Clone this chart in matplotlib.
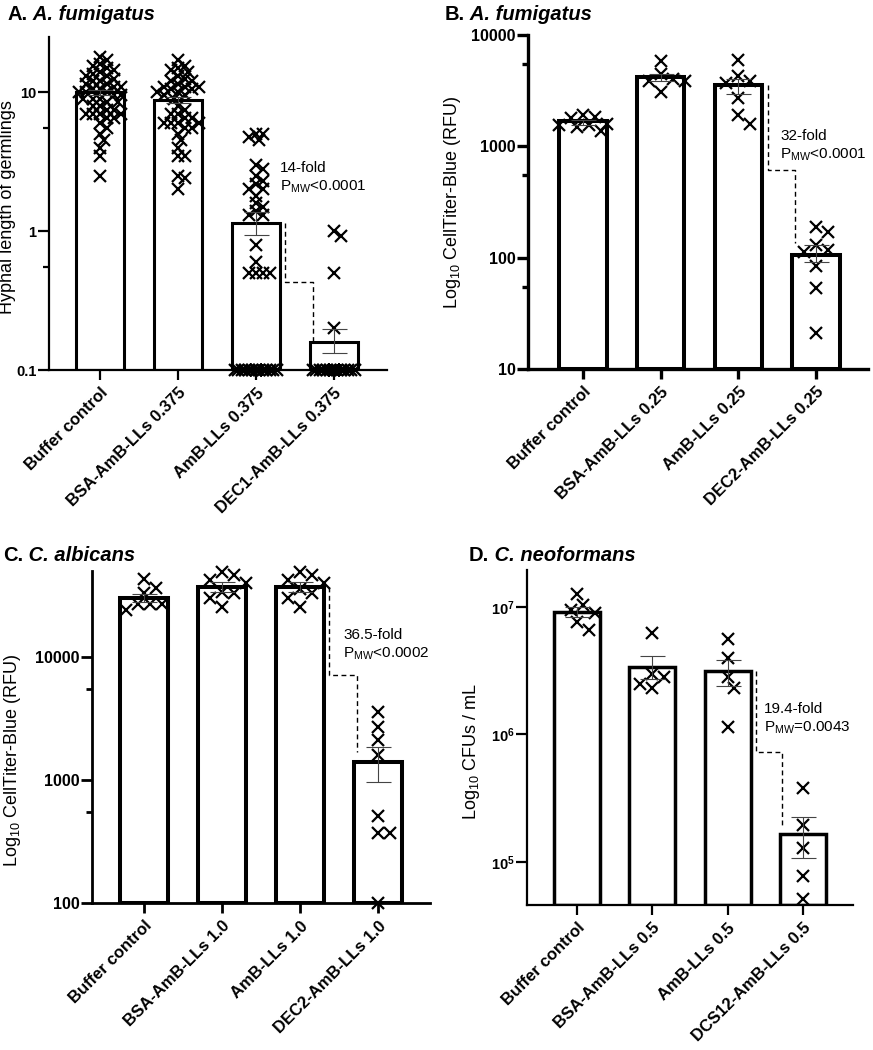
import numpy as np
import matplotlib
matplotlib.use('Agg')
import matplotlib.pyplot as plt

plt.rcParams['font.family'] = ['Liberation Sans', 'DejaVu Sans']
plt.rcParams['mathtext.fontset'] = 'custom'
plt.rcParams['mathtext.rm'] = 'Liberation Sans'
plt.rcParams['mathtext.it'] = 'Liberation Sans:italic'
plt.rcParams['mathtext.bf'] = 'Liberation Sans:bold'

# ---- A. A. fumigatus, hyphal length ----
labels_a = ['Buffer control', 'BSA-AmB-LLs 0.375', 'AmB-LLs 0.375', 'DEC1-AmB-LLs 0.375']
means_a = [10.0, 8.75, 1.14, 0.16]
lo_a = [9.6, 8.3, 0.94, 0.132]
hi_a = [10.4, 9.2, 1.37, 0.197]
pts_a = [
    [18, 17, 16, 15.5, 15, 14.5, 14, 13.5, 13, 13, 12.5, 12, 12, 11.5, 11.5, 11, 11,
     10.5, 10.5, 10, 10, 10, 9.5, 9.5, 9, 9, 9, 8.5, 8.5, 8, 8, 7.5, 7.5, 7, 7, 7, 7,
     6.5, 6.5, 6, 5.5, 5, 4.5, 4, 3.5, 2.5],
    [17, 15.5, 15, 14.5, 14, 13, 12.5, 12, 12, 11.5, 11, 11, 11, 10.5, 10.5, 10, 10,
     9.5, 9.5, 9, 8, 7.5, 7, 7, 6.5, 6.5, 6, 6, 6, 6, 5.5, 5.5, 5, 4.5, 4, 3.5, 3.5,
     2.5, 2.4, 2.0],
    [5, 5, 4.8, 4.5, 3, 2.8, 2.5, 2.3, 2.2, 2, 2, 1.8, 1.6, 1.5, 1.4, 1.3, 1.3, 0.8,
     0.6, 0.5, 0.5, 0.5, 0.5, 0.1, 0.1, 0.1, 0.1, 0.1, 0.1, 0.1, 0.1, 0.1, 0.1, 0.1,
     0.1, 0.1, 0.1, 0.1, 0.1, 0.1, 0.1, 0.1, 0.1],
    [1.0, 0.93, 0.5, 0.2, 0.1, 0.1, 0.1, 0.1, 0.1, 0.1, 0.1, 0.1, 0.1, 0.1, 0.1, 0.1,
     0.1, 0.1, 0.1, 0.1, 0.1, 0.1, 0.1, 0.1, 0.1, 0.1, 0.1, 0.1, 0.1, 0.1, 0.1, 0.1,
     0.1, 0.1, 0.1, 0.1, 0.1],
]

# ---- B. A. fumigatus, CellTiter-Blue ----
labels_b = ['Buffer control', 'BSA-AmB-LLs 0.25', 'AmB-LLs 0.25', 'DEC2-AmB-LLs 0.25']
means_b = [1680, 4200, 3550, 106]
lo_b = [1550, 3850, 2950, 92]
hi_b = [1730, 4500, 4000, 130]
pts_b = [
    [1850, 1550, 1500, 1550, 1600, 1900, 1800, 1380],
    [5900, 4500, 4000, 3900, 3850, 3100],
    [6000, 3900, 3700, 4300, 2700, 1900, 1600],
    [170, 190, 118, 130, 112, 85, 53, 21],
]

# ---- C. C. albicans ----
labels_c = ['Buffer control', 'BSA-AmB-LLs 1.0', 'AmB-LLs 1.0', 'DEC2-AmB-LLs 1.0']
means_c = [30200, 37000, 37000, 1400]
lo_c = [28000, 34000, 34000, 960]
hi_c = [32500, 40500, 40500, 1850]
pts_c = [
    [43000, 36500, 27000, 27000, 27000, 33000, 24000],
    [42000, 46000, 40000, 49000, 33000, 25500, 30000, 34000],
    [42000, 46000, 40000, 49000, 33000, 25500, 30000, 36000],
    [3600, 2700, 2100, 1600, 510, 370, 370, 100],
]

# ---- D. C. neoformans ----
labels_d = ['Buffer control', 'BSA-AmB-LLs 0.5', 'AmB-LLs 0.5', 'DCS12-AmB-LLs 0.5']
means_d = [9.1e6, 3.38e6, 3.15e6, 1.66e5]
lo_d = [8.4e6, 2.7e6, 2.4e6, 1.07e5]
hi_d = [1.0e7, 4.15e6, 3.85e6, 2.24e5]
pts_d = [
    [1.26e7, 9.5e6, 1.04e7, 6.6e6, 7.6e6, 9.0e6],
    [6.3e6, 3.0e6, 2.3e6, 2.5e6, 2.8e6],
    [5.6e6, 4.0e6, 2.8e6, 2.3e6, 1.15e6],
    [3.78e5, 1.95e5, 1.29e5, 7.7e4, 5.1e4],
]


def swarm(ax, xc, vals, gap, half):
    # spread the crosses sideways (in pixels) so they do not sit on top of each other
    vals = np.asarray(vals, float)
    ys = ax.transData.transform(np.column_stack([np.full(len(vals), xc), vals]))[:, 1]
    x0, x1 = ax.get_xlim()
    ppu = ax.bbox.width / (x1 - x0)
    cand = [0.0]
    for s in np.arange(gap / 2, half + 0.01, gap / 2):
        cand += [s, -s]
    placed = []
    offs = np.zeros(len(vals))
    for i in np.argsort(-ys, kind='stable'):
        best, best_d = 0.0, -1.0
        for c in cand:
            d = min([np.hypot(c - px, ys[i] - py) for px, py in placed], default=1e9)
            if d >= gap:
                best = c
                break
            if d > best_d:
                best, best_d = c, d
        placed.append((best, ys[i]))
        offs[i] = best
    return xc + offs / ppu


def panel(fig, rect, xlim, labels, means, lo, hi, pts, ylim, yticks, yticklabels,
          minor, ylabel, ylab_xy, lw_bar, lw_ax, tick_fs, gap, half,
          fold, pval, txt_x, txt_y, end_val):
    ax = fig.add_axes(rect)
    ax.set_yscale('log')
    ax.set_xlim(*xlim)
    ax.set_ylim(*ylim)
    x = np.arange(len(labels))
    w = 0.61
    ax.bar(x, np.array(means) - ylim[0], bottom=ylim[0], width=w, color='white',
           edgecolor='black', linewidth=lw_bar, zorder=2)
    for i, v in enumerate(pts):
        xs = swarm(ax, i, v, gap, half)
        ax.plot(xs, v, 'x', color='black', markersize=9, mew=1.6, zorder=3, clip_on=False)
    m = np.array(means)
    ax.errorbar(x, m, yerr=[m - np.array(lo), np.array(hi) - m], fmt='none',
                ecolor='#444444', elinewidth=0.8, capsize=9, capthick=0.8, zorder=4)

    # dashed bracket between AmB-LLs and the targeted liposomes
    xa = 2 + w / 2 + 0.07
    xb = 3 - w / 2 + 0.03
    ymid = np.sqrt(means[2] * means[3])
    ax.plot([xa, xa, xb, xb], [means[2], ymid, ymid, end_val], color='black',
            lw=1.0, ls=(0, (3.5, 2.5)), zorder=2)
    ax.text(txt_x, txt_y, fold, transform=ax.transAxes, fontsize=11, va='baseline')
    ax.text(txt_x, txt_y - 0.056, pval, transform=ax.transAxes, fontsize=11, va='baseline')

    for s in ['top', 'right']:
        ax.spines[s].set_visible(False)
    for s in ['left', 'bottom']:
        ax.spines[s].set_linewidth(lw_ax)
    ax.set_yticks(yticks)
    ax.set_yticklabels(yticklabels, fontweight='bold', fontsize=tick_fs)
    ax.set_yticks(minor, minor=True)
    ax.set_yticklabels([''] * len(minor), minor=True)
    ax.tick_params(axis='y', which='major', length=8, width=lw_ax, pad=1)
    ax.tick_params(axis='y', which='minor', length=4, width=lw_ax)
    ax.set_xticks(x)
    ax.set_xticklabels(labels, rotation=45, ha='right', va='top', rotation_mode='anchor',
                       fontweight='bold', fontsize=12)
    ax.tick_params(axis='x', length=7, width=lw_ax, pad=4)
    ax.set_ylabel(ylabel, fontsize=13)
    ax.yaxis.set_label_coords(*ylab_xy)
    return ax


def title(fig, ax, x, y, head, species):
    t = fig.text(x, y, head, fontsize=14.5, fontweight='bold', va='baseline')
    ax.annotate(' ' + species, xy=(1, 0), xycoords=t, va='bottom', ha='left',
                fontsize=14.5, fontweight='bold', fontstyle='italic', annotation_clip=False)


W, H = 873, 1050
fig = plt.figure(figsize=(W / 100, H / 100), dpi=100)


def rect(l, r, t, b):
    return [l / W, 1 - b / H, (r - l) / W, (b - t) / H]


pmw = r'P$_{\mathregular{MW}}$'

axA = panel(fig, rect(49, 387, 37, 370), (-0.654, 3.68), labels_a, means_a, lo_a, hi_a, pts_a,
            (0.1, 25), [0.1, 1, 10], ['0.1', '1', '10'], [0.55, 5.5],
            'Hyphal length of germlings', (-0.098, 0.49), 2.2, 1.6, 10.5, 7, 24,
            '14-fold', pmw + '<0.0001', 0.683, 0.595, 0.16)
axB = panel(fig, rect(528, 868, 35, 369), (-0.708, 3.668), labels_b, means_b, lo_b, hi_b, pts_b,
            (10, 10000), [10, 100, 1000, 10000], ['10', '100', '1000', '10000'], [55, 550, 5500],
            r'Log$_{10}$ CellTiter-Blue (RFU)', (-0.19, 0.5), 2.9, 2.4, 11.5, 12, 24,
            '32-fold', pmw + '<0.0001', 0.742, 0.686, 136)
axC = panel(fig, rect(92, 430, 571, 903), (-0.667, 3.667), labels_c, means_c, lo_c, hi_c, pts_c,
            (100, 50000), [100, 1000, 10000], ['100', '1000', '10000'], [550, 5500],
            r'Log$_{10}$ CellTiter-Blue (RFU)', (-0.204, 0.43), 2.9, 2.0, 11.5, 12, 24,
            '36.5-fold', pmw + '<0.0002', 0.743, 0.795, 1690)
axD = panel(fig, rect(527, 853, 570, 905), (-0.664, 3.665), labels_d, means_d, lo_d, hi_d, pts_d,
            (4.6e4, 1.95e7), [1e5, 1e6, 1e7],
            [r'$\mathbf{10^{5}}$', r'$\mathbf{10^{6}}$', r'$\mathbf{10^{7}}$'], [],
            r'Log$_{10}$ CFUs / mL', (-0.138, 0.457), 2.5, 1.6, 10.5, 12, 22,
            '19.4-fold', pmw + '=0.0043', 0.726, 0.573, 1.85e5)

title(fig, axA, 8 / W, 1 - 20 / H, 'A.', 'A. fumigatus')
title(fig, axB, 445 / W, 1 - 20 / H, 'B.', 'A. fumigatus')
title(fig, axC, 3 / W, 1 - 561 / H, 'C.', 'C. albicans')
title(fig, axD, 469 / W, 1 - 561 / H, 'D.', 'C. neoformans')

fig.savefig('out.png', dpi=100)
